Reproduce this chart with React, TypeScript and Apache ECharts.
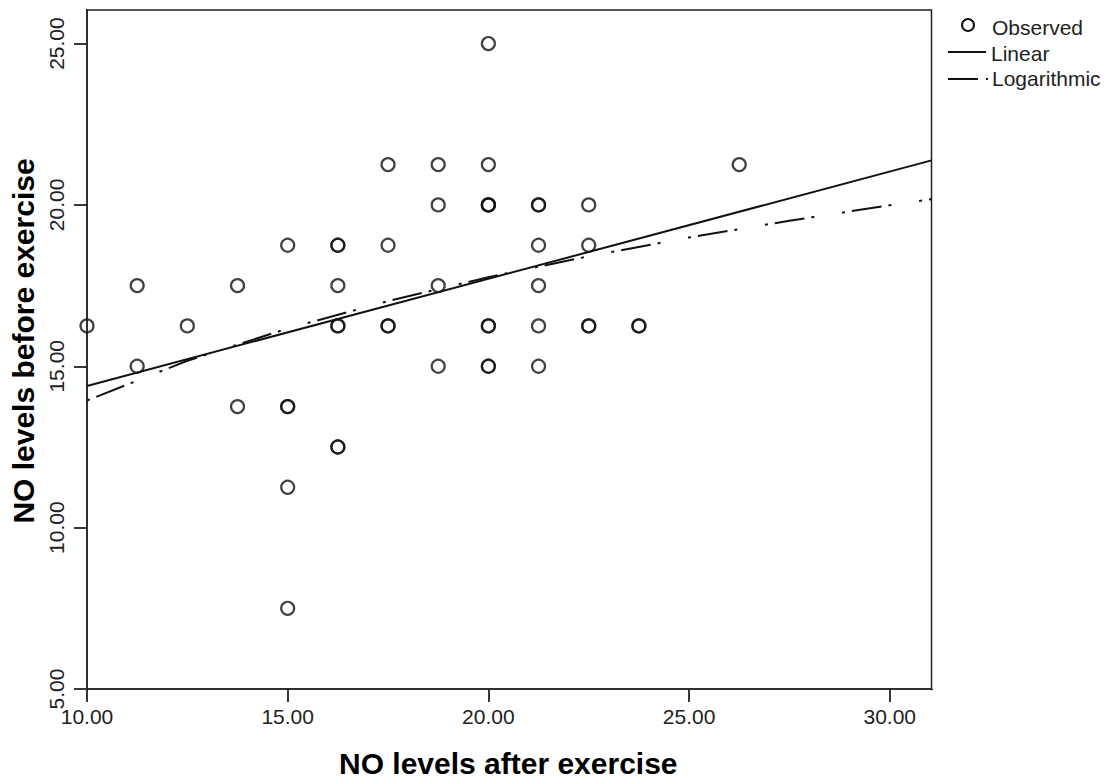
import React, { useEffect, useRef } from "react";
import * as echarts from "echarts";

// Observed points (NO after exercise, NO before exercise); duplicates kept
const xObs = [10, 11.25, 11.25, 12.5, 13.75, 13.75, 15, 15, 15, 15, 15, 16.25, 16.25, 16.25, 16.25, 16.25, 16.25, 16.25, 17.5, 17.5, 17.5, 17.5, 18.75, 18.75, 18.75, 18.75, 20, 20, 20, 20, 20, 20, 20, 20, 20, 21.25, 21.25, 21.25, 21.25, 21.25, 21.25, 22.5, 22.5, 22.5, 22.5, 23.75, 23.75, 26.25];
const yObs = [16.25, 17.5, 15, 16.25, 17.5, 13.75, 18.75, 13.75, 13.75, 11.25, 7.5, 18.75, 18.75, 17.5, 16.25, 16.25, 12.5, 12.5, 21.25, 18.75, 16.25, 16.25, 21.25, 20, 17.5, 15, 25, 21.25, 20, 20, 16.25, 16.25, 15, 15, 20, 20, 18.75, 17.5, 16.25, 15, 20, 20, 18.75, 16.25, 16.25, 16.25, 16.25, 21.25];

// Linear fit line
const linX = [10, 31.04];
const linY = [14.39, 21.38];

// Logarithmic fit curve
const logX = [10, 12.5, 15, 17.5, 20, 22.5, 25, 27.5, 30, 31.04];
const logY = [13.94, 15.17, 16.17, 17.02, 17.76, 18.41, 18.99, 19.51, 19.99, 20.18];

const xTicks = [10, 15, 20, 25, 30];
const yTicks = [5, 10, 15, 20, 25];

const xTitle = "NO levels after exercise";
const yTitle = "NO levels before exercise";
const legendLabels = ["Observed", "Linear", "Logarithmic"];

const FONT = "'Liberation Sans', Arial, sans-serif";
const INK = "#222";
const LOG_DASH = [3, 7, 30, 7, 3, 28];

export default function App() {
  const ref = useRef<HTMLDivElement>(null);
  useEffect(() => {
    if (!ref.current) return;
    const chart = echarts.init(ref.current, undefined, { renderer: "svg" });
    const gl = 87, gr = 931.5, gt = 10, gb = 689;
    chart.setOption({
      animation: false,
      backgroundColor: "#fff",
      grid: {
        left: gl, right: 1105 - gr, top: gt, bottom: 779 - gb,
        containLabel: false,
        show: true, borderColor: INK, borderWidth: 1.5, backgroundColor: "transparent",
      },
      xAxis: {
        type: "value", min: 10, max: 31.04, interval: 5,
        splitLine: { show: false },
        axisLine: { show: true, lineStyle: { color: INK, width: 1.5 } },
        axisTick: { show: true, inside: false, length: 13, lineStyle: { color: INK, width: 1.8 } },
        axisLabel: {
          customValues: xTicks, margin: 17,
          formatter: (v: number) => v.toFixed(2),
          fontFamily: FONT, fontSize: 21, color: "#222",
        },
      },
      yAxis: {
        type: "value", min: 5, max: 26.04, interval: 5,
        splitLine: { show: false },
        axisLine: { show: true, lineStyle: { color: INK, width: 1.5 } },
        axisTick: { show: true, inside: false, length: 13, lineStyle: { color: INK, width: 1.8 } },
        axisLabel: {
          customValues: yTicks, margin: 20, rotate: 90,
          formatter: (v: number) => v.toFixed(2),
          fontFamily: FONT, fontSize: 21, color: "#222",
        },
      },
      series: [
        {
          type: "scatter",
          data: xObs.map((x, i) => [x, yObs[i]]),
          symbol: "circle", symbolSize: 13,
          itemStyle: { color: "rgba(255,255,255,0)", borderColor: "#111", borderWidth: 2.2 },
          z: 3,
        },
        {
          type: "line",
          data: linX.map((x, i) => [x, linY[i]]),
          showSymbol: false, symbol: "none",
          lineStyle: { color: "#111", width: 2 },
          z: 2,
        },
        {
          type: "line",
          data: logX.map((x, i) => [x, logY[i]]),
          showSymbol: false, symbol: "none", smooth: false,
          lineStyle: { color: "#111", width: 2, type: LOG_DASH },
          z: 2,
        },
      ],
      graphic: [
        // masks hiding the extra ticks ECharts adds at the axes' max ends
        { type: "rect", z: 100, shape: { x: gr - 5, y: gb + 1.2, width: 11, height: 18 }, style: { fill: "#fff" } },
        { type: "rect", z: 100, shape: { x: gl - 18, y: gt - 5, width: 17, height: 11 }, style: { fill: "#fff" } },
        { type: "circle", shape: { cx: 968, cy: 25, r: 6 }, style: { fill: "none", stroke: "#111", lineWidth: 2 } },
        { type: "text", x: 992, y: 27, style: { text: legendLabels[0], font: `21px ${FONT}`, fill: "#222", verticalAlign: "middle" } },
        { type: "line", shape: { x1: 948, y1: 52, x2: 986, y2: 52 }, style: { stroke: "#111", lineWidth: 2 } },
        { type: "text", x: 991, y: 53, style: { text: legendLabels[1], font: `21px ${FONT}`, fill: "#222", verticalAlign: "middle" } },
        { type: "line", shape: { x1: 948, y1: 79, x2: 978, y2: 79 }, style: { stroke: "#111", lineWidth: 2 } },
        { type: "line", shape: { x1: 986, y1: 79, x2: 988, y2: 79 }, style: { stroke: "#111", lineWidth: 2 } },
        { type: "text", x: 992, y: 78, style: { text: legendLabels[2], font: `21px ${FONT}`, fill: "#222", verticalAlign: "middle" } },
        { type: "text", x: (gl + gr) / 2 - 1, y: 763, style: { text: xTitle, font: `bold 30px ${FONT}`, fill: "#000", align: "center", verticalAlign: "middle" } },
        { type: "text", x: 23, y: 341, rotation: Math.PI / 2, style: { text: yTitle, font: `bold 30px ${FONT}`, fill: "#000", align: "center", verticalAlign: "middle" } },
      ],
    });
    return () => chart.dispose();
  }, []);
  return <div ref={ref} style={{ width: 1105, height: 779, position: "absolute", left: 0, top: 0 }} />;
}
